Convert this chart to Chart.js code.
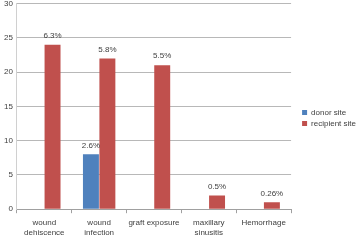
<!DOCTYPE html>
<html><head><meta charset="utf-8">
<script src="https://cdn.jsdelivr.net/npm/chart.js@4/dist/chart.umd.min.js"></script>
<style>html,body{margin:0;padding:0;background:#fff;overflow:hidden;}#wrap{width:358px;height:242px;overflow:hidden;}canvas{display:block;margin-top:-4px;}</style>
</head><body><div id="wrap"><canvas id="c" width="358" height="246"></canvas></div>
<script>
const categories = [["wound","dehiscence"],["wound","infection"],"graft exposure",["maxillary","sinusitis"],"Hemorrhage"];
const donorValues = [0, 8, 0, 0, 0];
const recipientValues = [24, 22, 21, 2, 1];
const donorLabels = ["", "2.6%", "", "", ""];
const recipientLabels = ["6.3%", "5.8%", "5.5%", "0.5%", "0.26%"];
const yTicks = [0, 5, 10, 15, 20, 25, 30];

const FONT = "'Liberation Sans', Arial, sans-serif";
const valueLabels = {
  id: 'valueLabels',
  afterDatasetsDraw(chart) {
    const ctx = chart.ctx;
    const lbls = [donorLabels, recipientLabels];
    ctx.save();
    ctx.font = "8px " + FONT;
    ctx.fillStyle = '#404040';
    ctx.textAlign = 'center';
    ctx.textBaseline = 'bottom';
    chart.data.datasets.forEach((ds, i) => {
      const meta = chart.getDatasetMeta(i);
      meta.data.forEach((el, j) => {
        const t = lbls[i][j];
        if (t) ctx.fillText(t, el.x, el.y - 5);
      });
    });
    ctx.restore();
  }
};
const shiftLegend = {
  id: 'shiftLegend',
  afterLayout(chart) {
    const lg = chart.legend;
    if (lg) { lg.left += 8; lg.right += 8; lg.top -= 1; lg.bottom -= 1; }
  }
};

new Chart(document.getElementById('c'), {
  type: 'bar',
  data: {
    labels: categories,
    datasets: [
      {label: 'donor site', data: donorValues, backgroundColor: '#4F81BD'},
      {label: 'recipient site', data: recipientValues, backgroundColor: '#C0504D'}
    ]
  },
  options: {
    responsive: false,
    animation: false,
    devicePixelRatio: 1,
    layout: {padding: {left: 0, right: 0, top: 0, bottom: 0}},
    datasets: {bar: {categoryPercentage: 0.6, barPercentage: 0.97}},
    plugins: {
      legend: {
        position: 'right',
        align: 'center',
        labels: {boxWidth: 5, boxHeight: 5, padding: 3, color: '#404040', font: {family: FONT, size: 8}}
      },
      tooltip: {enabled: false}
    },
    scales: {
      x: {
        grid: {drawOnChartArea: false, drawTicks: true, tickLength: 4, offset: true, color: '#a0a0a0'},
        border: {color: '#a0a0a0'},
        ticks: {color: '#404040', font: {family: FONT, size: 8, lineHeight: 1.3}, maxRotation: 0, autoSkip: false, padding: 4}
      },
      y: {
        min: 0, max: 30,
        afterBuildTicks(axis) { axis.ticks = yTicks.map(v => ({value: v})); },
        grid: {color: '#b8b8b8', drawTicks: false},
        border: {display: true, color: '#d0d0d0'},
        ticks: {color: '#404040', font: {family: FONT, size: 8, lineHeight: 0.9}, padding: 4}
      }
    }
  },
  plugins: [valueLabels, shiftLegend]
});
</script></body></html>
